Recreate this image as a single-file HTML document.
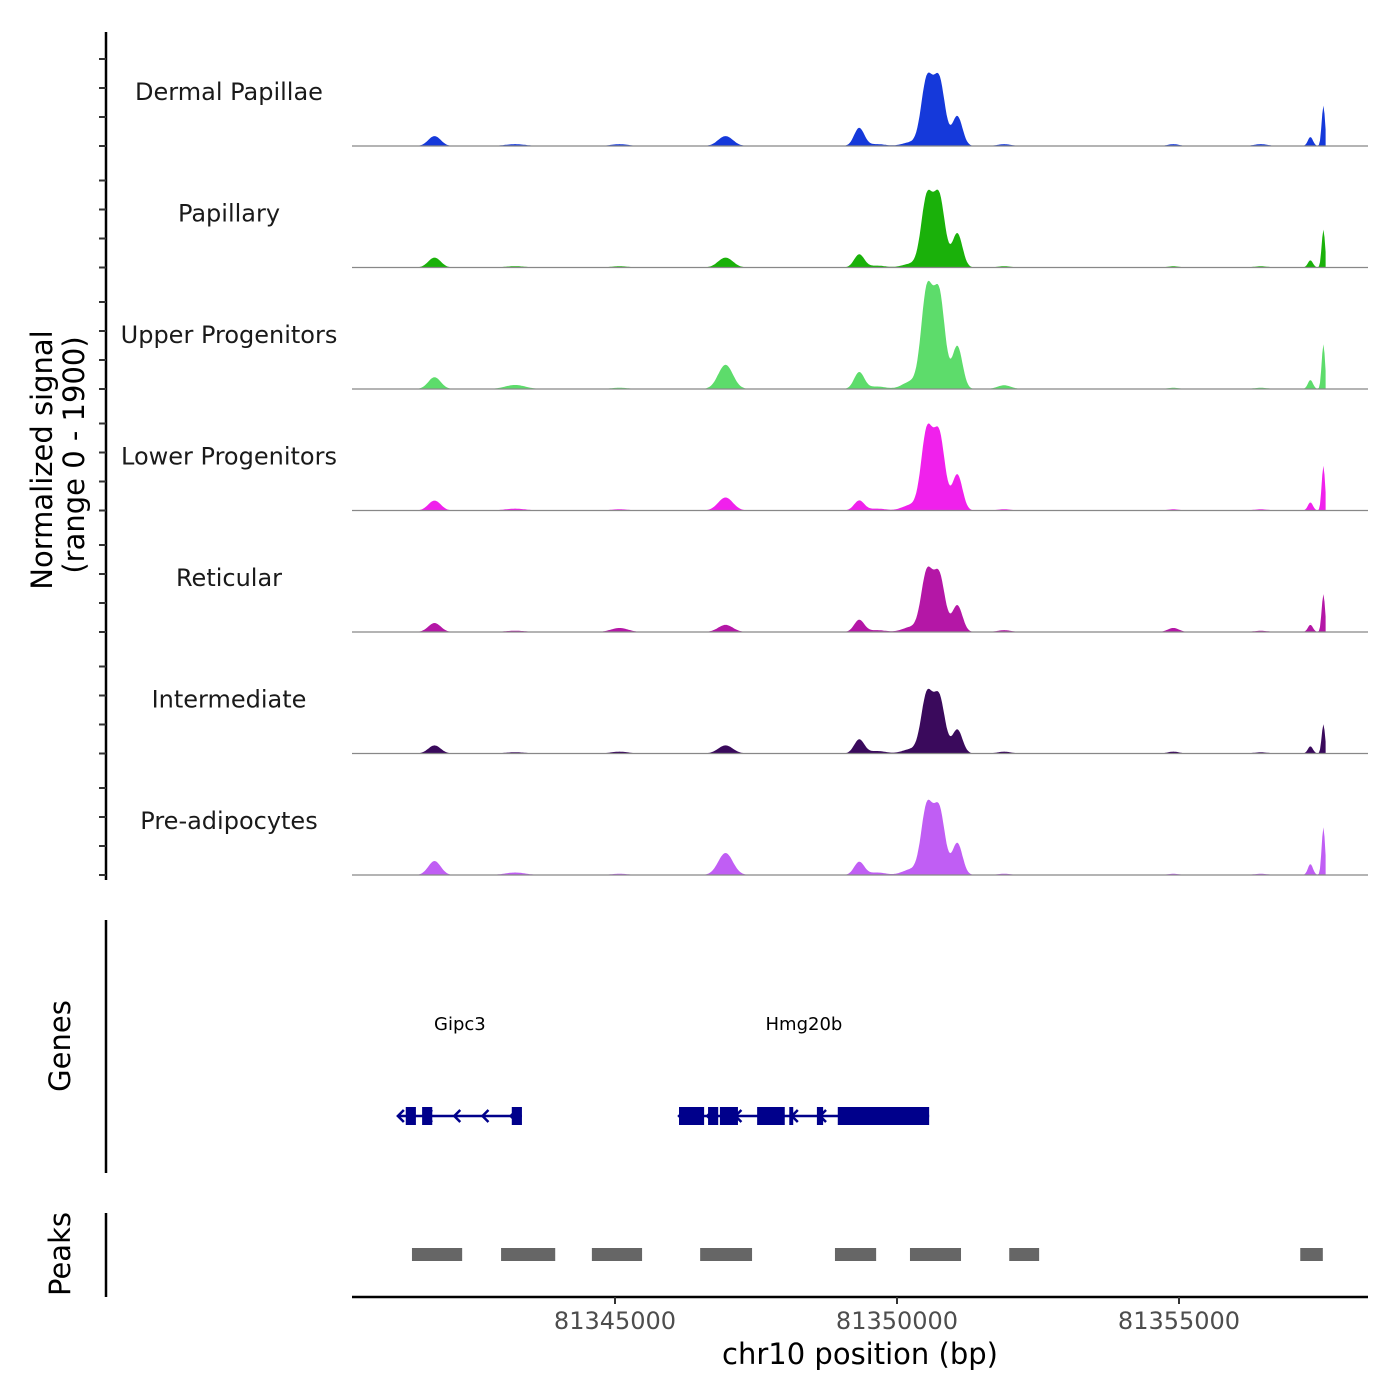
<!DOCTYPE html>
<html><head><meta charset="utf-8"><style>
body{margin:0;background:#fff}
svg{display:block;font-family:"DejaVu Sans","Liberation Sans",sans-serif}
</style></head><body>
<svg id="chart" width="1400" height="1400" xmlns="http://www.w3.org/2000/svg"></svg>
<script>
const trackNames=["Dermal Papillae","Papillary","Upper Progenitors","Lower Progenitors","Reticular","Intermediate","Pre-adipocytes"];
const trackColors=["#1539da","#1ab10a","#5ddc6b","#f021ec","#b417a6","#3a0a5c","#c05ef4"];
const peakCenters=[81341800,81343230,81345080,81346960,81349330,81349650,81350250,81350530,81350750,81351070,81351900,81354900,81356450,81357330,81357560];
const peakWidths=[110,180,150,130,90,150,150,100,100,90,120,100,120,45,30];
const sigDP=[160,30,30,160,290,30,60,1050,1050,480,30,30,30,145,650];
const sigPap=[160,20,20,160,210,30,60,1110,1120,550,20,20,20,115,610];
const sigUpper=[190,65,20,390,270,40,120,1550,1500,690,60,20,20,145,720];
const sigLower=[160,30,20,210,160,30,90,1250,1200,580,20,20,20,130,720];
const sigRet=[145,20,65,115,195,30,80,940,900,430,30,65,20,115,610];
const sigInt=[130,20,30,130,225,40,70,930,890,385,30,30,20,115,470];
const sigPre=[225,40,20,355,210,40,90,1080,1040,515,20,20,20,175,770];
const signals=[sigDP,sigPap,sigUpper,sigLower,sigRet,sigInt,sigPre];
const xTicks=[81345000,81350000,81355000];
const peakRegions=[[81341400,81342290],[81342980,81343940],[81344590,81345480],[81346510,81347430],[81348900,81349630],[81350230,81351135],[81351990,81352520],[81357150,81357550]];
const geneNames=["Gipc3","Hmg20b"];
const geneStarts=[81341150,81346135];
const geneEnds=[81343350,81350570];
const geneLabelPos=[81342250,81348350];
const exons=[[81341290,81341470],[81341580,81341760],[81343170,81343350],[81346135,81346580],[81346650,81346830],[81346860,81347180],[81347520,81348010],[81348090,81348160],[81348580,81348690],[81348950,81350570]];

const S=document.getElementById('chart');const NS='http://www.w3.org/2000/svg';
function el(t,a,p){const e=document.createElementNS(NS,t);for(const k in a)e.setAttribute(k,a[k]);(p||S).appendChild(e);return e;}
const X0=81345000,PX0=615,PPB=(897-615)/5000;
function xs(b){return PX0+(b-X0)*PPB;}
const base0=146,trackStep=121.5,trackH=118,YMAX=1900;
function ys(v,i){return base0+i*trackStep - v/YMAX*trackH;}

let ax=el('line',{x1:106,y1:32,x2:106,y2:880,stroke:'#000','stroke-width':2.5});

for(let i=0;i<7;i++){for(let k=0;k<4;k++){const y=base0+i*trackStep-k*29;
 const t=el('line',{x1:99,y1:y,x2:106,y2:y,stroke:'#333','stroke-width':2});
 }}
let yt=el('text',{transform:'translate(52,460) rotate(-90)','text-anchor':'middle','font-size':29});
yt.textContent='Normalized signal';
let yt2=el('text',{transform:'translate(84,455) rotate(-90)','text-anchor':'middle','font-size':29});
yt2.textContent='(range 0 - 1900)';

const bStart=81340200,bEnd=81357600;
for(let i=0;i<7;i++){
 const g=el('g',{});
 let d='M'+xs(bStart)+','+ys(0,i);
 for(let b=bStart;b<=bEnd;b+=20){let v=0;for(let p=0;p<peakCenters.length;p++){const z=(b-peakCenters[p])/peakWidths[p];v+=signals[i][p]*Math.exp(-z*z/2);}
  d+=' L'+xs(b).toFixed(1)+','+ys(v,i).toFixed(1);}
 d+=' L'+xs(bEnd)+','+ys(0,i)+'Z';
 const a=el('path',{d:d,fill:trackColors[i]},g);
 const bl=el('line',{x1:352,x2:1368,y1:ys(0,i),y2:ys(0,i),stroke:'#888','stroke-width':1.2},g);
 
 const lb=el('text',{x:229,y:ys(0,i)-46,'text-anchor':'middle','font-size':24,fill:'#1a1a1a'},g);
 lb.textContent=trackNames[i];
}

let ga=el('line',{x1:106,y1:920,x2:106,y2:1173,stroke:'#000','stroke-width':2.5});
let gt=el('text',{transform:'translate(70,1046) rotate(-90)','text-anchor':'middle','font-size':29});gt.textContent='Genes';
const gy=1116,gc='#00008b';
for(let i=0;i<geneNames.length;i++){
 const g=el('g',{});
 el('line',{x1:xs(geneStarts[i]),x2:xs(geneEnds[i]),y1:gy,y2:gy,stroke:gc,'stroke-width':2.5},g);
 for(let b=geneStarts[i];b<geneEnds[i];b+=500){const x=xs(b);el('path',{d:`M${x+6},${gy-6} L${x},${gy} L${x+6},${gy+6}`,stroke:gc,'stroke-width':2.5,fill:'none'},g);}
 const t=el('text',{x:xs(geneLabelPos[i]),y:1030,'text-anchor':'middle','font-size':18,fill:'#000'},g);t.textContent=geneNames[i];
}
for(const e of exons){const r=el('rect',{x:xs(e[0]),y:gy-9,width:xs(e[1])-xs(e[0]),height:18,fill:gc});}

let pa=el('line',{x1:106,y1:1213,x2:106,y2:1297,stroke:'#000','stroke-width':2.5});
let pt=el('text',{transform:'translate(70,1254) rotate(-90)','text-anchor':'middle','font-size':29});pt.textContent='Peaks';
for(const p of peakRegions){const r=el('rect',{x:xs(p[0]),y:1248,width:xs(p[1])-xs(p[0]),height:13,fill:'#666'});}

let xa=el('line',{x1:352,x2:1368,y1:1297,y2:1297,stroke:'#000','stroke-width':2.5});
for(const t of xTicks){const x=xs(t);
 const tk=el('line',{x1:x,x2:x,y1:1297,y2:1304,stroke:'#333','stroke-width':2});
 const l=el('text',{x:x,y:1329,'text-anchor':'middle','font-size':24,fill:'#4d4d4d'});l.textContent=t;}
let xt=el('text',{x:860,y:1364,'text-anchor':'middle','font-size':29});xt.textContent='chr10 position (bp)';
</script>
</body></html>
